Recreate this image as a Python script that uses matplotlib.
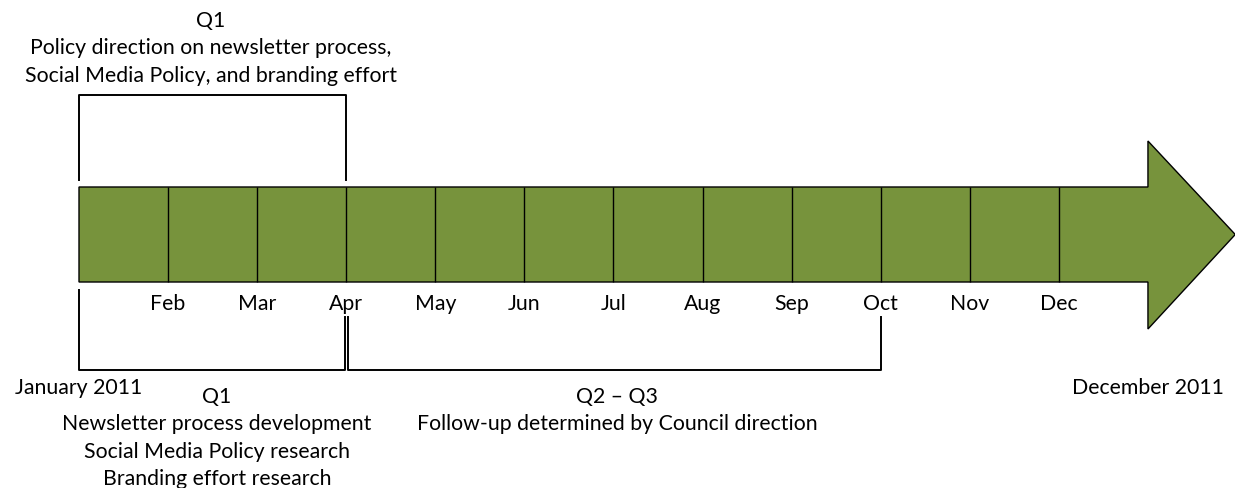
import matplotlib.pyplot as plt
from matplotlib.patches import Polygon

plt.rcParams['font.family'] = ['Lato', 'DejaVu Sans']

# Data: month boundaries (0 = start of January) and labels
months = ['Feb', 'Mar', 'Apr', 'May', 'Jun', 'Jul', 'Aug', 'Sep', 'Oct', 'Nov', 'Dec']
month_pos = list(range(1, 12))
start_label = 'January 2011'
end_label = 'December 2011'

top_phase = (0, 3)          # Q1 policy direction, Jan -> Apr
bottom_phases = [(0, 3), (3, 9)]  # Q1 research, Q2-Q3 follow-up

top_text = ['Q1', 'Policy direction on newsletter process,',
            'Social Media Policy, and branding effort']
q1_text = ['Q1', 'Newsletter process development',
           'Social Media Policy research', 'Branding effort research']
q23_text = ['Q2 \u2013 Q3', 'Follow-up determined by Council direction']

green = '#77933C'
px = 89.08  # pixels per month
x0 = 79

fig = plt.figure(figsize=(12.35, 4.89), dpi=100)
ax = fig.add_axes([0, 0, 1, 1])
ax.set_xlim(-x0 / px, (1235 - x0) / px)
ax.set_ylim(489, 0)
ax.axis('off')

# arrow body + head
bar_top, bar_bot = 188, 283
head_top, head_bot = 142, 330
mid = (bar_top + bar_bot) / 2
pts = [(0, bar_top), (12, bar_top), (12, head_top), (12.98, mid),
       (12, head_bot), (12, bar_bot), (0, bar_bot)]
ax.add_patch(Polygon(pts, closed=True, facecolor=green, edgecolor='black', lw=1.0))
ax.vlines(month_pos, bar_top, bar_bot, colors='black', lw=1.0)

fs = 15.3
for m, lab in zip(month_pos, months):
    ax.text(m, 304, lab, ha='center', va='center', fontsize=fs)

ax.text(0, 388, start_label, ha='center', va='center', fontsize=fs)
ax.text(12, 388, end_label, ha='center', va='center', fontsize=fs)

# top bracket
a, b = top_phase
ax.plot([a, a, b, b], [181, 96, 96, 181], color='black', lw=1.4)
for i, line in enumerate(top_text):
    ax.text((a + b) / 2 - 0.02, 21 + i * 27.5, line, ha='center', va='center', fontsize=fs)

# bottom brackets
gap = 1.6 / px
(a1, b1), (a2, b2) = bottom_phases
ax.plot([a1, a1, b1 - gap, b1 - gap], [291, 371, 371, 318], color='black', lw=1.4)
ax.plot([a2 + gap, a2 + gap, b2, b2], [318, 371, 371, 318], color='black', lw=1.4)

for i, line in enumerate(q1_text):
    ax.text(1.55, 397 + i * 27.3, line, ha='center', va='center', fontsize=fs)
for i, line in enumerate(q23_text):
    ax.text(6.04, 397 + i * 26.5, line, ha='center', va='center', fontsize=fs)

fig.savefig('out.png', dpi=100)
